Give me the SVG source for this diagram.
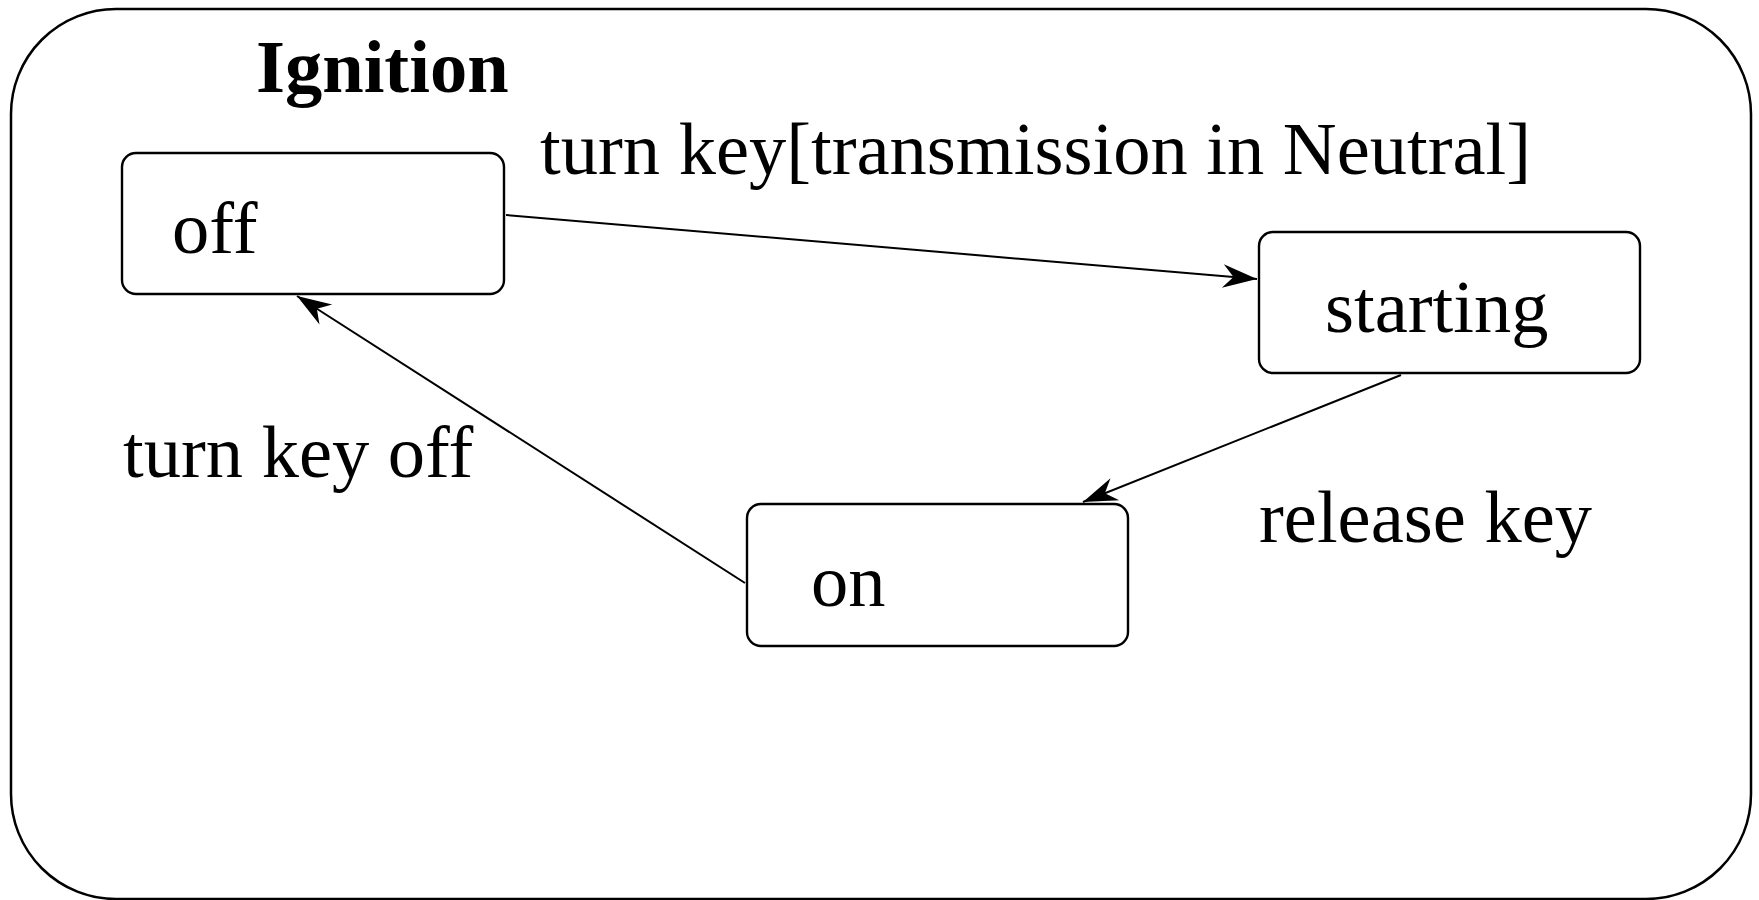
<svg xmlns="http://www.w3.org/2000/svg" width="1759" height="900" viewBox="0 0 1759 900">
  <style>
    .frame { fill: #fff; stroke: #000; stroke-width: 2.5; }
    .state { fill: #fff; stroke: #000; stroke-width: 2.4; }
    .edge { fill: none; stroke: #000; stroke-width: 2; }
    text { font-family: "Liberation Serif", "Times New Roman", serif; font-size: 74.5px; fill: #000; }
    .title { font-weight: bold; }
  </style>
  <defs>
    <marker id="arrow" markerUnits="userSpaceOnUse" markerWidth="40" markerHeight="30" viewBox="-34 -14 36 28" refX="0" refY="0" orient="auto">
      <path d="M0,0 L-32,-11 L-22,0 L-32,11 Z" fill="#000"/>
    </marker>
  </defs>

  <rect width="1759" height="900" fill="#fff"/>

  <!-- composite state -->
  <g id="ignition">
    <rect class="frame" x="11" y="9" width="1740" height="890" rx="105" ry="105"/>
    <text class="title" x="256" y="92">Ignition</text>
  </g>

  <g id="off">
    <rect class="state" x="122" y="153" width="382" height="141" rx="14" ry="14"/>
    <text x="172" y="253">off</text>
  </g>

  <g id="starting">
    <rect class="state" x="1259" y="232" width="381" height="141" rx="14" ry="14"/>
    <text x="1325" y="332">starting</text>
  </g>

  <g id="on">
    <rect class="state" x="747" y="504" width="381" height="142" rx="14" ry="14"/>
    <text x="811" y="606">on</text>
  </g>

  <!-- transitions -->
  <g id="connectors">
    <line class="edge" x1="506" y1="215" x2="1257" y2="279" marker-end="url(#arrow)"/>
    <line class="edge" x1="1401" y1="375" x2="1083" y2="502" marker-end="url(#arrow)"/>
    <line class="edge" x1="745" y1="583" x2="297" y2="296" marker-end="url(#arrow)"/>
    <text x="540" y="174">turn key[transmission in Neutral]</text>
    <text x="1259" y="542">release key</text>
    <text x="123" y="477">turn key off</text>
  </g>
</svg>
